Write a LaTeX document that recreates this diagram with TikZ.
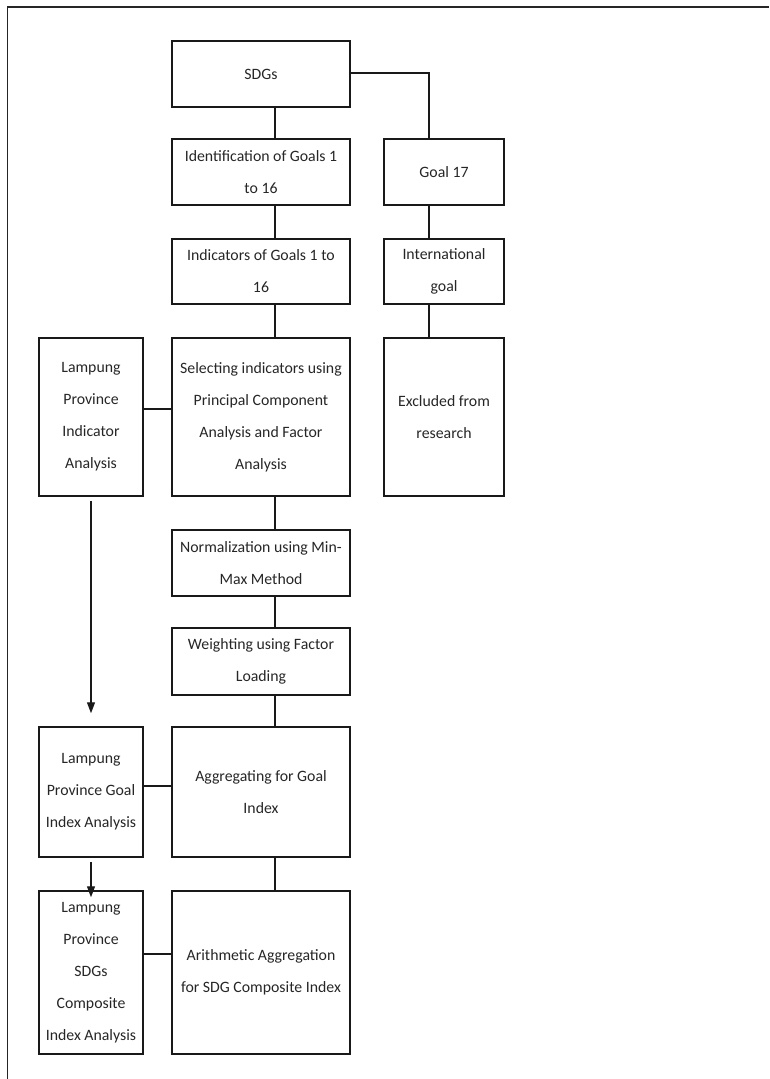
\documentclass[tikz,border=0pt]{standalone}
\usepackage{fontspec}
\setmainfont{Carlito}
\usetikzlibrary{arrows.meta,calc}
\begin{document}
\begin{tikzpicture}[x=1pt,y=-1pt,
  box/.style={draw=black!90, line width=1.5pt, align=center, inner sep=0pt,
    font=\fontsize{15.8}{32}\selectfont, text=black!85},
  link/.style={draw=black!90, line width=1.3pt},
  arr/.style={link, -{Triangle[length=11pt,width=8pt]}}]
\useasboundingbox (0,0) rectangle (769,1079);
% outer frame (cropped)
\draw[line width=1.5pt, black!85] (7.5,1079) -- (7.5,7) -- (769,7);
% spines for connectors
\coordinate (cx) at (275,0);
\coordinate (rx) at (429,0);
% nodes
\node[box, minimum width=178pt, minimum height=66pt] (sdg) at (261,74) {SDGs};
\node[box, minimum width=178pt, minimum height=66pt] (ident) at (261,172) {Identification of Goals 1\\to 16};
\node[box, minimum width=178pt, minimum height=65pt] (indic) at (261,271.5) {Indicators of Goals 1 to\\16};
\node[box, minimum width=120pt, minimum height=66pt] (g17) at (444,172) {Goal 17};
\node[box, minimum width=120pt, minimum height=65pt] (intl) at (444,271.5) {International\\goal};
\node[box, minimum width=178pt, minimum height=158pt] (sel) at (261,417) {Selecting indicators using\\Principal Component\\Analysis and Factor\\Analysis};
\node[box, minimum width=104pt, minimum height=158pt] (lpia) at (91,417) {Lampung\\Province\\Indicator\\Analysis};
\node[box, minimum width=120pt, minimum height=158pt] (excl) at (444,417) {Excluded from\\research};
\node[box, minimum width=178pt, minimum height=66pt] (norm) at (261,563) {Normalization using Min-\\Max Method};
\node[box, minimum width=178pt, minimum height=67pt] (wght) at (261,661.5) {Weighting using Factor\\Loading};
\node[box, minimum width=104pt, minimum height=130pt] (lgia) at (91,792) {Lampung\\Province Goal\\Index Analysis};
\node[box, minimum width=178pt, minimum height=130pt] (agg) at (261,792) {Aggregating for Goal\\Index};
\node[box, minimum width=104pt, minimum height=163pt] (lsci) at (91,972.5) {Lampung\\Province\\SDGs\\Composite\\Index Analysis};
\node[box, minimum width=178pt, minimum height=163pt] (arith) at (261,972.5) {Arithmetic Aggregation\\for SDG Composite Index};
% horizontal link levels
\coordinate (h1) at (0,409);
\coordinate (h2) at (0,786);
\coordinate (h3) at (0,954);
% main column connectors
\draw[link] (sdg.south -| cx) -- (ident.north -| cx);
\draw[link] (ident.south -| cx) -- (indic.north -| cx);
\draw[link] (indic.south -| cx) -- (sel.north -| cx);
\draw[link] (sel.south -| cx) -- (norm.north -| cx);
\draw[link] (norm.south -| cx) -- (wght.north -| cx);
\draw[link] (wght.south -| cx) -- (agg.north -| cx);
\draw[link] (agg.south -| cx) -- (arith.north -| cx);
% right column
\draw[link] (sdg.east |- 0,73) -| (g17.north -| rx);
\draw[link] (g17.south -| rx) -- (intl.north -| rx);
\draw[link] (intl.south -| rx) -- (excl.north -| rx);
% left links
\draw[link] (lpia.east |- h1) -- (sel.west |- h1);
\draw[link] (lgia.east |- h2) -- (agg.west |- h2);
\draw[link] (lsci.east |- h3) -- (arith.west |- h3);
% arrows
\draw[arr, shorten <=4pt, shorten >=13pt] (lpia.south) -- (lgia.north);
\draw[arr, shorten <=4pt, shorten >=-7pt] (lgia.south) -- (lsci.north);
\end{tikzpicture}
\end{document}
